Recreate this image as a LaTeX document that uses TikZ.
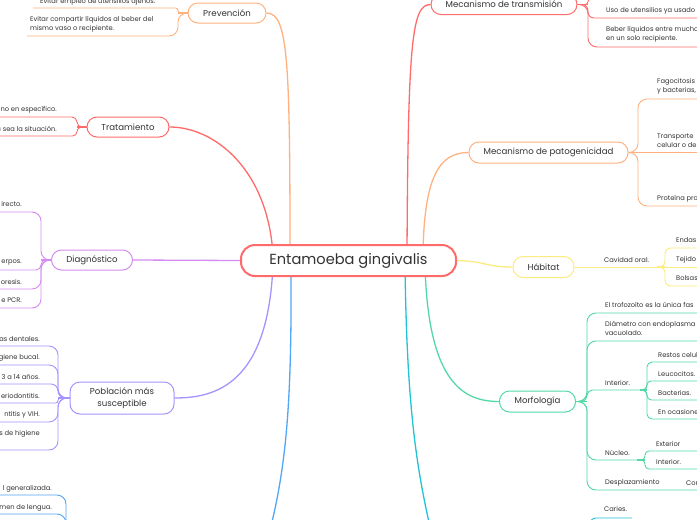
\documentclass[tikz,border=0pt]{standalone}
\usepackage{fontspec}
\setmainfont{Poppins}
\definecolor{cred}{HTML}{FF6B6B}
\definecolor{corange}{HTML}{FFB27F}
\definecolor{cpurple}{HTML}{D58CF0}
\definecolor{clav}{HTML}{A593FF}
\definecolor{cblue}{HTML}{52A7F5}
\definecolor{cyellow}{HTML}{FCEB7F}
\definecolor{cgreen}{HTML}{52D9A6}
\definecolor{ccyan}{HTML}{22C3D6}
\definecolor{txt}{HTML}{333333}
\pgfdeclarelayer{bg}
\pgfsetlayers{bg,main}
\begin{document}
\begin{tikzpicture}[x=1pt,y=-1pt,
  topic/.style={draw, line width=1pt, fill=white, rounded corners=10pt, inner sep=0pt, text=txt, font=\fontsize{8.6}{10}\selectfont, align=center},
  ct/.style={inner sep=0pt, text=txt, font=\fontsize{6.7}{9}\selectfont, align=left},
  conn/.style={line width=1.3pt},
  cl/.style={line width=0.9pt, rounded corners=9pt},
  stub/.style={line width=1.6pt}]
\useasboundingbox (0,0) rectangle (697,520);
\clip (0,0) rectangle (697,520);

% ---------- topic nodes ----------
\node[topic, draw=cred, line width=2pt, rounded corners=14pt, minimum width=215pt, minimum height=31pt, font=\fontsize{14.6}{17}\selectfont] (main) at (348.5,260.5) {Entamoeba gingivalis};
\node[topic, draw=corange, minimum width=78pt, minimum height=20pt] (prev) at (227,13) {Prevención};
\node[topic, draw=cred, minimum width=82pt, minimum height=20pt] (trat) at (128,127) {Tratamiento};
\node[topic, draw=cpurple, minimum width=81pt, minimum height=20pt] (diag) at (92,260) {Diagnóstico};
\node[topic, draw=clav, minimum width=104pt, minimum height=32pt, font=\fontsize{8.6}{12.3}\selectfont] (pobl) at (122,398) {Población más\\susceptible};
\node[topic, draw=cred, minimum width=146pt, minimum height=20pt] (mtrans) at (504,4.5) {Mecanismo de transmisión};
\node[topic, draw=corange, minimum width=159pt, minimum height=21pt] (mpat) at (548.5,152.5) {Mecanismo de patogenicidad};
\node[topic, draw=cyellow, minimum width=61pt, minimum height=21pt] (hab) at (543.5,267) {Hábitat};
\node[topic, draw=cgreen, minimum width=76pt, minimum height=21pt] (morf) at (537.5,401.5) {Morfología};

% main exit points (hidden under the central node)
\coordinate (eP) at (290,255);
\coordinate (eT) at (273,255);
\coordinate (eL) at (273,265);
\coordinate (eB) at (291,265);
\coordinate (eM) at (407,255);
\coordinate (eA) at (423,255);
\coordinate (eG) at (425,265);
\coordinate (eC) at (405,265);
\coordinate (offB) at (262,560);
\coordinate (offC) at (438,560);

\begin{pgfonlayer}{bg}
\fill[white] (0,0) rectangle (697,520);
% ---------- main connectors ----------
\draw[conn, corange] (eP) .. controls (290,60) and (288,13) .. (prev.east);
\draw[conn, cred] (eT) .. controls (268,170) and (215,127) .. (trat.east);
\draw[conn, cpurple] (main.west) -- (diag.east);
\draw[conn, clav] (eL) .. controls (268,385) and (215,398) .. (pobl.east);
\draw[conn, cblue] (eB) .. controls (292,420) and (285,480) .. (offB);
\draw[conn, cred] (eM) .. controls (408,40) and (412,4.5) .. (mtrans.west);
\draw[conn, corange] (eA) .. controls (424,175) and (440,152.5) .. (mpat.west);
\draw[conn, cyellow] (main.east) .. controls (490,262) and (485,267) .. (hab.west);
\draw[conn, cgreen] (eG) .. controls (428,385) and (465,401.5) .. (morf.west);
\draw[conn, ccyan] (eC) .. controls (407,420) and (418,480) .. (offC);

% ---------- Prevención ----------
\draw[stub, corange] (prev.west) -- (178,13);
\draw[cl, corange, rounded corners=2.5pt] (prev.west) -- (178,13) -- (178,8) -- (33,8);
\draw[cl, corange] (prev.west) -- (178,13) -- (178,36) -- (27,36);
% ---------- Tratamiento ----------
\draw[stub, cred] (trat.west) -- (77,127);
\draw[cl, cred, rounded corners=5pt] (trat.west) -- (77,127) -- (77,117) -- (-5,117);
\draw[cl, cred, rounded corners=4.5pt] (trat.west) -- (77,127) -- (77,136) -- (-5,136);
% ---------- Diagnóstico ----------
\draw[stub, cpurple] (diag.west) -- (41,260);
\draw[cl, cpurple] (diag.west) -- (41,260) -- (41,212) -- (-5,212);
\draw[cl, cpurple, rounded corners=5pt] (diag.west) -- (41,260) -- (41,270) -- (-5,270);
\draw[cl, cpurple] (diag.west) -- (41,260) -- (41,289) -- (-5,289);
\draw[cl, cpurple] (diag.west) -- (41,260) -- (41,308) -- (-5,308);
% ---------- Población ----------
\draw[stub, clav] (pobl.west) -- (58,398);
\draw[cl, clav] (pobl.west) -- (58,398) -- (58,346) -- (-5,346);
\draw[cl, clav] (pobl.west) -- (58,398) -- (58,365) -- (-5,365);
\draw[cl, clav, rounded corners=7pt] (pobl.west) -- (58,398) -- (58,384) -- (-5,384);
\draw[cl, clav, rounded corners=2.5pt] (pobl.west) -- (58,398) -- (58,403) -- (-5,403);
\draw[cl, clav] (pobl.west) -- (58,398) -- (58,422) -- (-5,422);
\draw[cl, clav] (pobl.west) -- (58,398) -- (58,450) -- (-5,450);
% ---------- blue (off page) ----------
\draw[cl, cblue] (-5,495) -- (66,495) -- (66,560);
\draw[cl, cblue] (-5,514) -- (66,514) -- (66,560);
% ---------- Mecanismo de transmisión ----------
\draw[stub, cred] (mtrans.east) -- (588,4.5);
\draw[cl, cred, rounded corners=2.7pt] (mtrans.east) -- (588,4.5) -- (588,-1) -- (705,-1);
\draw[cl, cred, rounded corners=6pt] (mtrans.east) -- (588,4.5) -- (588,18) -- (705,18);
\draw[cl, cred] (mtrans.east) -- (588,4.5) -- (588,47) -- (705,47);
% ---------- Mecanismo de patogenicidad ----------
\draw[stub, corange] (mpat.east) -- (638,152.5);
\draw[cl, corange] (mpat.east) -- (638,152.5) -- (638,99) -- (705,99);
\draw[cl, corange] (mpat.east) -- (705,152.5);
\draw[cl, corange] (mpat.east) -- (638,152.5) -- (638,206) -- (705,206);
% ---------- Hábitat ----------
\draw[cl, cyellow] (hab.east) -- (657,267);
\draw[stub, cyellow] (657,267) -- (665,267);
\draw[cl, cyellow, rounded corners=6pt] (657,267) -- (665,267) -- (665,248) -- (705,248);
\draw[cl, cyellow] (657,267) -- (705,267);
\draw[cl, cyellow, rounded corners=6pt] (657,267) -- (665,267) -- (665,286) -- (705,286);
% ---------- Morfología ----------
\draw[stub, cgreen] (morf.east) -- (587,401.5);
\draw[cl, cgreen] (morf.east) -- (587,401.5) -- (587,313) -- (705,313);
\draw[cl, cgreen] (morf.east) -- (587,401.5) -- (587,341) -- (705,341);
\draw[cl, cgreen, rounded corners=5.5pt] (morf.east) -- (587,401.5) -- (587,390) -- (640,390);
\draw[cl, cgreen] (morf.east) -- (587,401.5) -- (587,460) -- (637,460);
\draw[cl, cgreen] (morf.east) -- (587,401.5) -- (587,490) -- (705,490);
\draw[stub, cgreen] (640,390) -- (647,390);
\draw[cl, cgreen, rounded corners=5pt] (640,390) -- (647,390) -- (647,362) -- (705,362);
\draw[cl, cgreen, rounded corners=4pt] (640,390) -- (647,390) -- (647,381) -- (705,381);
\draw[cl, cgreen, rounded corners=4.5pt] (640,390) -- (647,390) -- (647,400) -- (705,400);
\draw[cl, cgreen, rounded corners=5pt] (640,390) -- (647,390) -- (647,419) -- (705,419);
\draw[stub, cgreen] (637,460) -- (645,460);
\draw[cl, cgreen, rounded corners=4pt] (637,460) -- (645,460) -- (645,451) -- (705,451);
\draw[cl, cgreen, rounded corners=4pt] (637,460) -- (645,460) -- (645,469) -- (705,469);
% ---------- cyan (off page) ----------
\draw[cl, ccyan, rounded corners=6pt] (590,560) -- (590,518) -- (632,518);
\end{pgfonlayer}

% ---------- child texts ----------
\node[ct, anchor=west] (p1) at (40,1.5) {Evitar empleo de utensilios ajenos.};
\node[ct, anchor=west] (p2) at (30,24.5) {Evitar compartir líquidos al beber del\\mismo vaso o recipiente.};
\node[ct, anchor=east] (t1) at (57,109.5) {uno en específico.};
\node[ct, anchor=east] (t2) at (57,128.5) {a sea la situación.};
\node[ct, anchor=east] (d1) at (22,204) {irecto.};
\node[ct, anchor=east] (d2) at (22,262.5) {erpos.};
\node[ct, anchor=east] (d3) at (22,281.5) {oresis.};
\node[ct, anchor=east] (d4) at (22,300.5) {e PCR.};
\node[ct, anchor=east] (s1) at (40,339) {as dentales.};
\node[ct, anchor=east] (s2) at (40,358) {giene bucal.};
\node[ct, anchor=east] (s3) at (40,377) {3 a 14 años.};
\node[ct, anchor=east] (s4) at (40,396) {eriodontitis.};
\node[ct, anchor=east] (s5) at (40,415) {ntitis y VIH.};
\node[ct, anchor=east] (s6) at (40,434) {s de higiene};
\node[ct, anchor=east] (b1) at (52,489) {l generalizada.};
\node[ct, anchor=east] (b2) at (52,507.5) {men de lengua.};
\node[ct, anchor=west] (m1) at (606,11) {Uso de utensilios ya usado};
\node[ct, anchor=west] (m2) at (606,34.5) {Beber líquidos entre mucho\\en un solo recipiente.};
\node[ct, anchor=west] (a1) at (657,86) {Fagocitosis\\y bacterias,};
\node[ct, anchor=west] (a2) at (657,141) {Transporte\\celular o de};
\node[ct, anchor=west] (a3) at (657,199) {Proteína pro};
\node[ct, anchor=west] (h0) at (604,259.5) {Cavidad oral.};
\node[ct, anchor=west] (h1) at (676,240) {Endas};
\node[ct, anchor=west] (h2) at (676,259.5) {Tejido};
\node[ct, anchor=west] (h3) at (676,278) {Bolsas};
\node[ct, anchor=west] (g1) at (605,305) {El trofozoíto es la única fas};
\node[ct, anchor=west] (g2) at (605,328.5) {Diámetro con endoplasma\\vacuolado.};
\node[ct, anchor=west] (g3) at (605,383) {Interior.};
\node[ct, anchor=west] (g31) at (658,355) {Restos celul};
\node[ct, anchor=west] (g32) at (658,373.5) {Leucocitos.};
\node[ct, anchor=west] (g33) at (658,392.5) {Bacterias.};
\node[ct, anchor=west] (g34) at (658,411.5) {En ocasione};
\node[ct, anchor=west] (g4) at (605,452.5) {Núcleo.};
\node[ct, anchor=west] (g41) at (656,443.5) {Exterior};
\node[ct, anchor=west] (g42) at (656,462) {Interior.};
\node[ct, anchor=west] (g5) at (605,483) {Desplazamiento};
\node[ct, anchor=west] (g51) at (686,483) {Con};
\node[ct, anchor=west] (c1) at (604,509) {Caries.};
\end{tikzpicture}
\end{document}
